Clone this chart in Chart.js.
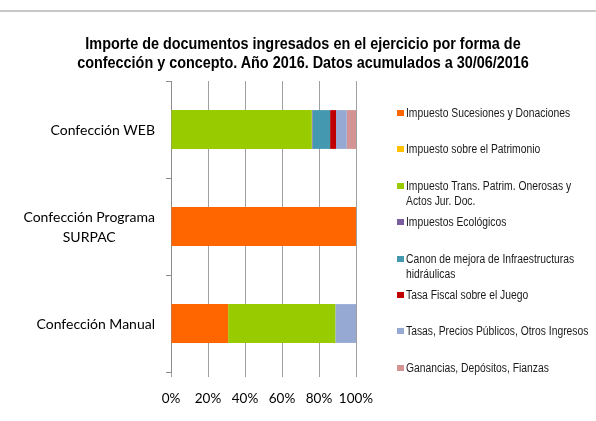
<!DOCTYPE html>
<html>
<head>
<meta charset="utf-8">
<script src="https://cdn.jsdelivr.net/npm/chart.js@4.4.1/dist/chart.umd.min.js"></script>
<style>
  html, body { margin: 0; padding: 0; background: #fff; }
  #wrap { position: relative; width: 596px; height: 421px; overflow: hidden; }
  #topRule { position: absolute; left: 0; top: 10px; width: 596px; border-top: 2px solid #c8c8c8; }
  #title {
    position: absolute; left: 10px; top: 34px; width: 586px;
    text-align: center; color: #000;
    font: bold 16px 'Liberation Sans', Arial, sans-serif;
    line-height: 19px;
    transform: scaleX(0.9);
    transform-origin: 293px 0;
    white-space: nowrap;
  }
  #legend {
    position: absolute; left: 397px; top: 106px; width: 240px;
    font: 12px 'Liberation Sans', Arial, sans-serif;
    color: #1a1a1a;
    white-space: nowrap;
  }
  .item { position: relative; height: 36.4px; line-height: 15.5px; }
  .item .box { position: absolute; left: 0; top: 4px; width: 7px; height: 6px; }
  .item .txt { position: absolute; left: 9px; top: 0; transform: scaleX(0.86); transform-origin: 0 0; }
  canvas { position: absolute; left: 0; top: 0; }
</style>
</head>
<body>
<div id="wrap">
  <div id="topRule"></div>
  <canvas id="chart" width="596" height="421"></canvas>
  <div id="title">Importe de documentos ingresados en el ejercicio por forma de<br>confección y concepto. Año 2016. Datos acumulados a 30/06/2016</div>
  <div id="legend"></div>
</div>
<script>
// Categorias (de arriba a abajo) y series, en % del total de cada forma de confección
const categories = [['Confección WEB'], ['Confección Programa', 'SURPAC'], ['Confección Manual']];
const seriesNames = [
  'Impuesto Sucesiones y Donaciones',
  'Impuesto sobre el Patrimonio',
  'Impuesto Trans. Patrim. Onerosas y\nActos Jur. Doc.',
  'Impuestos Ecológicos',
  'Canon de mejora de Infraestructuras\nhidráulicas',
  'Tasa Fiscal sobre el Juego',
  'Tasas, Precios Públicos, Otros Ingresos',
  'Ganancias, Depósitos, Fianzas'
];
const seriesColors = ['#ff6600', '#ffc000', '#99cc00', '#7b5ea0', '#4498b0', '#c00000', '#95a9d2', '#d49394'];

const sucesiones  = [0,    100, 30.9];
const patrimonio  = [0,    0,   0];
const transPatrim = [76.1, 0,   57.9];
const ecologicos  = [0.4,  0,   0];
const canon       = [9.5,  0,   0];
const juego       = [3.2,  0,   0];
const tasas       = [5.8,  0,   11.2];
const ganancias   = [5.0,  0,   0];
const xTicks = [0, 20, 40, 60, 80, 100];

const seriesValues = [sucesiones, patrimonio, transPatrim, ecologicos, canon, juego, tasas, ganancias];

// Etiquetas de categoría: bloque alineado a la derecha, líneas centradas entre sí
const categoryLabels = {
  id: 'categoryLabels',
  afterDraw(chart) {
    const ctx = chart.ctx;
    const y = chart.scales.y;
    ctx.save();
    ctx.font = '14px Lato';
    ctx.fillStyle = '#000';
    ctx.textBaseline = 'middle';
    ctx.textAlign = 'center';
    chart.data.labels.forEach((lines, i) => {
      const cy = y.getPixelForValue(i) + 1;
      const w = Math.max(...lines.map(l => ctx.measureText(l).width));
      const cx = y.right - 16 - w / 2;
      lines.forEach((l, j) => ctx.fillText(l, cx, cy + (j - (lines.length - 1) / 2) * 20));
    });
    ctx.restore();
  }
};

const chart = new Chart(document.getElementById('chart'), {
  type: 'bar',
  data: {
    labels: categories,
    datasets: seriesNames.map((name, i) => ({
      label: name.replace('\n', ' '),
      data: seriesValues[i],
      backgroundColor: seriesColors[i],
      borderWidth: 0,
      categoryPercentage: 0.4,
      barPercentage: 1
    }))
  },
  options: {
    indexAxis: 'y',
    responsive: false,
    animation: false,
    layout: { padding: { top: 81, right: 240, left: 0, bottom: 0 } },
    plugins: {
      legend: { display: false },
      title: { display: false },
      tooltip: { enabled: false }
    },
    scales: {
      x: {
        stacked: true,
        min: 0,
        max: 100,
        afterBuildTicks: s => { s.ticks = xTicks.map(v => ({ value: v })); },
        afterFit: s => { s.height = 49; },
        ticks: {
          callback: v => v + '%',
          color: '#000',
          font: { family: 'Lato', size: 13.5 },
          padding: 14,
          autoSkip: false,
          maxRotation: 0
        },
        grid: { color: '#a0a0a0', tickLength: 5 },
        border: { display: false }
      },
      y: {
        stacked: true,
        afterFit: s => { s.width = 171; },
        ticks: { display: false },
        grid: { offset: true, drawOnChartArea: false, tickLength: 5, color: '#8c8c8c' },
        border: { color: '#8c8c8c' }
      }
    }
  },
  plugins: [categoryLabels]
});

// Leyenda construida a partir de las series
const legend = document.getElementById('legend');
seriesNames.forEach((name, i) => {
  const item = document.createElement('div');
  item.className = 'item';
  const box = document.createElement('span');
  box.className = 'box';
  box.style.background = seriesColors[i];
  item.appendChild(box);
  const txt = document.createElement('span');
  txt.className = 'txt';
  name.split('\n').forEach((line, j) => {
    if (j) txt.appendChild(document.createElement('br'));
    txt.appendChild(document.createTextNode(line));
  });
  item.appendChild(txt);
  legend.appendChild(item);
});
</script>
</body>
</html>
